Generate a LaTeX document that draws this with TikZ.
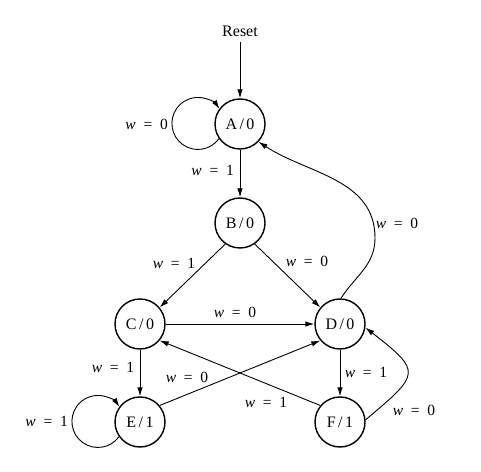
\documentclass[tikz,border=0pt]{standalone}
\usepackage{fontspec}
\setmainfont{Liberation Serif}
\usetikzlibrary{arrows.meta}
\newcommand{\wlab}[1]{\textit{w}\enspace=\enspace#1}
\newcommand{\st}[2]{#1\kern2.5pt/\kern2.5pt#2}
\begin{document}
\begin{tikzpicture}[x=1pt,y=1pt,
  state/.style={circle,draw,line width=1.4pt,minimum size=50pt,inner sep=0pt,font=\fontsize{16}{19}\selectfont},
  lab/.style={font=\fontsize{15.5}{18}\selectfont,inner sep=0pt},
  edge/.style={line width=0.9pt,-{Latex[length=9pt,width=5.5pt]}}]
\useasboundingbox (0,0) rectangle (481,471);
\node[state] (A) at (240,347) {\st{A}{0}};
\node[state] (B) at (240,248) {\st{B}{0}};
\node[state] (C) at (140,147) {\st{C}{0}};
\node[state] (D) at (340,147) {\st{D}{0}};
\node[state] (E) at (140,49) {\st{E}{1}};
\node[state] (F) at (340,49) {\st{F}{1}};
\node[lab,font=\fontsize{16}{19}\selectfont] (reset) at (240,440) {Reset};
\coordinate (dabend) at (375,233);
% edges
\draw[edge] (reset.south) ++(0,-5) coordinate (rs) -- (A.north);
\draw[edge] (A.south) -- (B.north);
\draw[edge] (B.235) -- (C.40);
\draw[edge] (B.-55) -- (D.140);
\draw[edge] (C.east) -- (D.west);
\draw[edge] (C.south) -- (E.north);
\draw[edge] (D.south) -- (F.north);
\draw[edge] (E.40) -- (D.220);
\draw[edge] (F.140) -- (C.-40);
\draw[edge] (D.88) to[out=57,in=-90] (dabend) to[out=90,in=-33] (A.-44);
\draw[edge] (F.5) to[out=40,in=-38,looseness=2] (D.-8);
\draw[edge] (A.215) arc[start angle=-36,end angle=-326,radius=26];
\draw[edge] (E.215) arc[start angle=-36,end angle=-326,radius=26];
% labels
\node[lab,anchor=east] (la) at (168,347) {\wlab{0}};
\node[lab,anchor=east] (lab1) at (234,301) {\wlab{1}};
\node[lab] (lbc) at (174,208) {\wlab{1}};
\node[lab] (lbd) at (307,210) {\wlab{0}};
\node[lab] (lda) at (397,248) {\wlab{0}};
\node[lab] (lcd) at (235,159) {\wlab{0}};
\node[lab] (lce) at (113,104) {\wlab{1}};
\node[lab] (led) at (187,94) {\wlab{0}};
\node[lab] (lfc) at (266,69) {\wlab{1}};
\node[lab] (ldf) at (366,99) {\wlab{1}};
\node[lab] (lfd) at (414,61) {\wlab{0}};
\node[lab,anchor=east] (le) at (68,50) {\wlab{1}};
\end{tikzpicture}
\end{document}
